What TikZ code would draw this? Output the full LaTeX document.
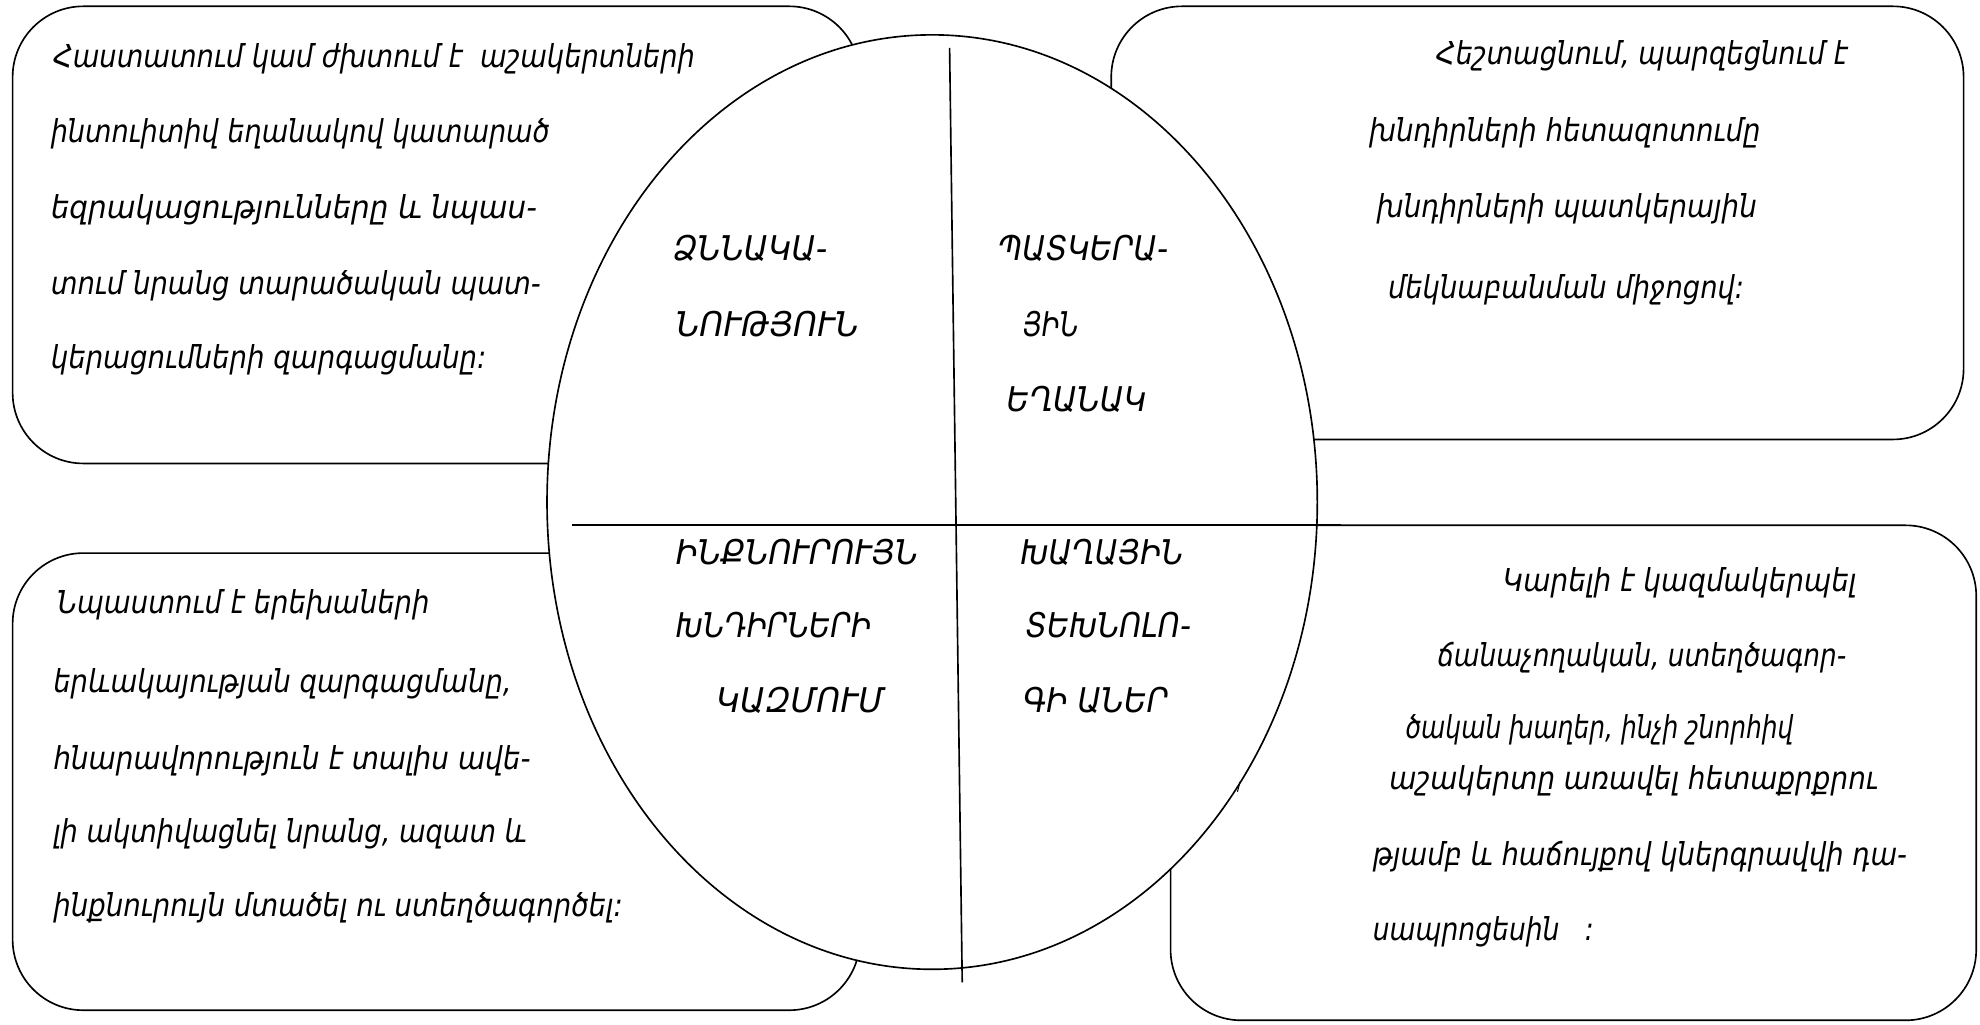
\documentclass[tikz,border=0pt]{standalone}
\usepackage{fontspec}
\usepackage{graphicx}
\newfontfamily\armfont{DejaVu Sans}
\newcommand\fitw[2]{\sbox0{#2}\pgfmathsetmacro\fitratio{#1/\the\wd0}\scalebox{\fitratio}[1]{\usebox0}}
\tikzset{
  boxshape/.style={draw=black, line width=1.3pt, fill=white, rounded corners=56pt},
  ovalshape/.style={draw=black, line width=1.3pt, fill=white},
  divider/.style={draw=black, line width=1.3pt},
  body/.style={inner sep=0pt, anchor=mid west, yshift=-3pt, font=\armfont\itshape\fontsize{25}{25}\selectfont},
  lab/.style={inner sep=0pt, anchor=mid west, yshift=-5pt, font=\armfont\itshape\fontsize{27}{27}\selectfont}
}
\begin{document}
\begin{tikzpicture}[x=1pt,y=-1pt]
\path[fill=white] (0,0) rectangle (1568,811);
\useasboundingbox (0,0) rectangle (1568,811);

% boxes
\draw[boxshape] (10,5) rectangle (681,367);
\draw[boxshape] (880,5) rectangle (1555,348);
\draw[boxshape] (10,438) rectangle (681,800);
\draw[boxshape] (927,416) rectangle (1565,808);

% oval
\draw[ovalshape] (738.2,397.6) ellipse [x radius=305pt, y radius=370pt];

% dividers
\coordinate (vt) at (752,38);
\coordinate (vb) at (762,778);
\coordinate (hl) at (453,416);
\coordinate (hr) at (1062,416);
\draw[divider] (vt) -- (vb);
\draw[divider] (hl) -- (hr);
\coordinate (tka) at (980,627);
\coordinate (tkb) at (982,619);
\draw[line width=0.8pt] (tka) -- (tkb);

% top-left text
\node[body] (tl1) at (42,48) {\fitw{508}{Հաստատում կամ ժխտում է~ աշակերտների}};
\node[body] (tl2) at (40,108) {\fitw{395}{ինտուիտիվ եղանակով կատարած}};
\node[body] (tl3) at (40,168) {\fitw{385}{եզրակացությունները և նպաս-}};
\node[body] (tl4) at (40,228) {\fitw{388}{տում նրանց տարածական պատ-}};
\node[body] (tl5) at (40,287) {\fitw{345}{կերացումների զարգացմանը:}};

% top-right text
\node[body] (tr1) at (1137,46) {\fitw{326}{Հեշտացնում, պարզեցնում է}};
\node[body] (tr2) at (1084,107) {\fitw{310}{խնդիրների հետազոտումը}};
\node[body] (tr3) at (1090,167) {\fitw{301}{խնդիրների պատկերային}};
\node[body] (tr4) at (1099,231) {\fitw{282}{մեկնաբանման միջոցով:}};

% bottom-left text
\node[body] (bl1) at (45,481) {\fitw{295}{Նպաստում է երեխաների}};
\node[body] (bl2) at (42,543) {\fitw{363}{երևակայության զարգացմանը,}};
\node[body] (bl3) at (42,604) {\fitw{378}{հնարավորություն է տալիս ավե-}};
\node[body] (bl4) at (42,662) {\fitw{375}{լի ակտիվացնել նրանց, ազատ և}};
\node[body] (bl5) at (42,721) {\fitw{451}{ինքնուրույն մտածել ու ստեղծագործել:}};

% bottom-right text
\node[body] (br1) at (1190,463) {\fitw{280}{Կարելի է կազմակերպել}};
\node[body] (br2) at (1138,523) {\fitw{324}{ճանաչողական, ստեղծագոր-}};
\node[body] (br3) at (1113,580) {\fitw{307}{ծական խաղեր, ինչի շնորհիվ}};
\node[body] (br4) at (1100,620) {\fitw{387}{աշակերտը առավել հետաքրքրու}};
\node[body] (br5) at (1087,680) {\fitw{423}{թյամբ և հաճույքով կներգրավվի դա-}};
\node[body] (br6) at (1087,740) {\fitw{175}{սապրոցեսին~ ~:}};

% oval labels
\node[lab] (q1a) at (533,199) {\fitw{122}{ՁՆՆԱԿԱ-}};
\node[lab] (q1b) at (535,259) {\fitw{145}{ՆՈՒԹՅՈՒՆ}};
\node[lab] (q2a) at (790,199) {\fitw{135}{ՊԱՏԿԵՐԱ-}};
\node[lab] (q2b) at (810,259) {\fitw{44}{ՅԻՆ}};
\node[lab] (q2c) at (797,319) {\fitw{111}{ԵՂԱՆԱԿ}};
\node[lab] (q3a) at (535,440) {\fitw{192}{ԻՆՔՆՈՒՐՈՒՅՆ}};
\node[lab] (q3b) at (535,498) {\fitw{155}{ԽՆԴԻՐՆԵՐԻ}};
\node[lab] (q3c) at (567,557) {\fitw{133}{ԿԱԶՄՈՒՄ}};
\node[lab] (q4a) at (808,440) {\fitw{129}{ԽԱՂԱՅԻՆ}};
\node[lab] (q4b) at (812,498) {\fitw{131}{ՏԵԽՆՈԼՈ-}};
\node[lab] (q4c) at (810,557) {\fitw{115}{ԳԻ ԱՆԵՐ}};
\end{tikzpicture}
\end{document}
